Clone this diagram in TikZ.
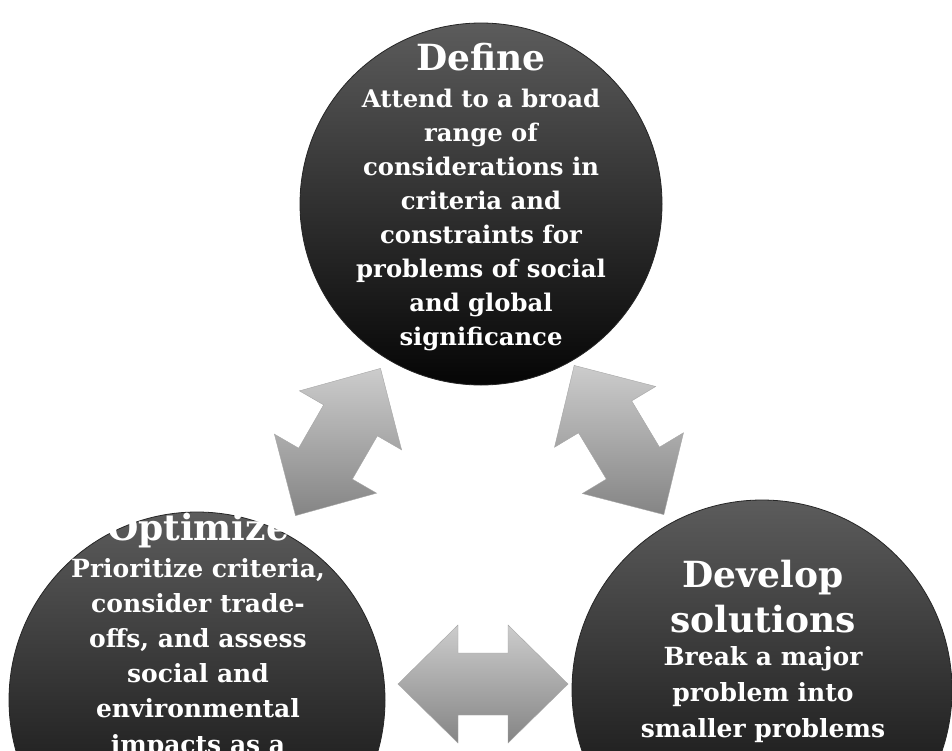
\documentclass[tikz,border=0pt]{standalone}
\usepackage{fontspec}
\setmainfont{DejaVu Serif}
\newcommand{\dblarrow}[3]{%
  \path[blockarrow, shift={(#1)}, rotate=#2]
    (-#3,0) -- (-#3+60,59) -- (-#3+60,31) -- (#3-60,31) -- (#3-60,59) -- (#3,0)
    -- (#3-60,-59) -- (#3-60,-31) -- (-#3+60,-31) -- (-#3+60,-59) -- cycle;}
\begin{document}
\begin{tikzpicture}[x=1pt,y=-1pt,
  bubble/.style={circle, inner sep=0pt, draw=black!85, line width=0.8pt,
    top color=black!64, bottom color=black!98},
  ttl/.style={text=white, font=\fontsize{36}{40}\selectfont\bfseries, anchor=base, inner sep=0pt},
  bodytxt/.style={text=white, font=\fontsize{24.3}{28}\selectfont\bfseries, anchor=base, inner sep=0pt},
  bodytxtb/.style={bodytxt, font=\fontsize{25}{28}\selectfont\bfseries},
  blockarrow/.style={top color=black!20, bottom color=black!48, draw=black!35, line width=0.4pt}]
\useasboundingbox (0,0) rectangle (952,750);
\clip (0,0) rectangle (952,750);
\fill[white] (0,0) rectangle (952,750);

% circles
\node[bubble, minimum size=362pt] (define) at (481,204) {};
\node[bubble, minimum size=376pt] (optimize) at (197,700) {};
\node[bubble, minimum size=380pt] (develop) at (762,690) {};

% block arrows
\coordinate (a1) at (338,442);
\coordinate (a2) at (619,440);
\coordinate (a3) at (483,684);
\dblarrow{a1}{60}{85}
\dblarrow{a2}{-59}{87}
\dblarrow{a3}{0}{85}

% Define text
\node[ttl] (defT) at (481,70) {Define};
\foreach \t [count=\i] in {Attend to a broad, range of, considerations in, criteria and,
  constraints for, problems of social, and global, significance}
  \node[bodytxt] (defB\i) at (481,{107+34*(\i-1)}) {\t};

% Optimize text
\node[ttl] (optT) at (198,540) {Optimize};
\foreach \t [count=\i] in {{Prioritize criteria,}, consider trade-, {offs, and assess},
  social and, environmental, impacts as a}
  \node[bodytxtb] (optB\i) at (198,{577+35.2*(\i-1)}) {\t};

% Develop text
\node[ttl] (devT1) at (763,587) {Develop};
\node[ttl] (devT2) at (763,632) {solutions};
\foreach \t [count=\i] in {Break a major, problem into, smaller problems}
  \node[bodytxtb] (devB\i) at (763,{665+36*(\i-1)}) {\t};
\end{tikzpicture}
\end{document}
